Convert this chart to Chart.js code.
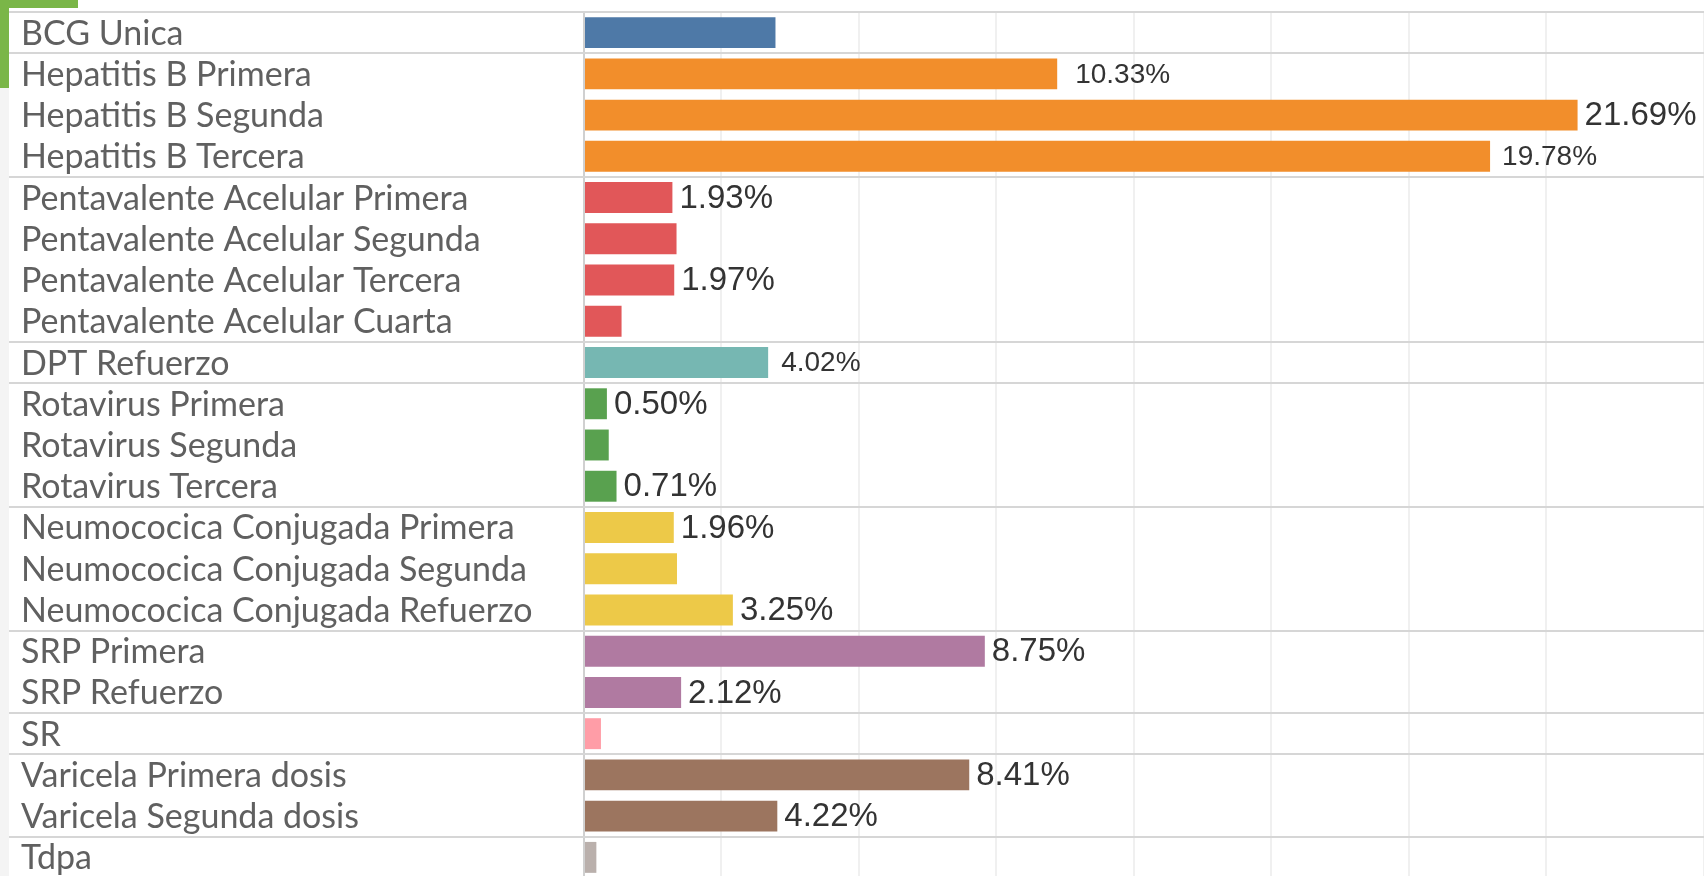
<!DOCTYPE html>
<html>
<head>
<meta charset="utf-8">
<script src="https://cdn.jsdelivr.net/npm/chart.js@4.4.1/dist/chart.umd.min.js"></script>
<style>
    html, body { margin: 0; padding: 0; background: #ffffff; overflow: hidden; }
    #CoberturaChart { display: block; }
</style>
</head>
<body>
<canvas id="CoberturaChart" width="1704" height="878"></canvas>
<script>
//Datos
var vacunas = [
    'BCG Unica',
    'Hepatitis B Primera',
    'Hepatitis B Segunda',
    'Hepatitis B Tercera',
    'Pentavalente Acelular Primera',
    'Pentavalente Acelular Segunda',
    'Pentavalente Acelular Tercera',
    'Pentavalente Acelular Cuarta',
    'DPT Refuerzo',
    'Rotavirus Primera',
    'Rotavirus Segunda',
    'Rotavirus Tercera',
    'Neumococica Conjugada Primera',
    'Neumococica Conjugada Segunda',
    'Neumococica Conjugada Refuerzo',
    'SRP Primera',
    'SRP Refuerzo',
    'SR',
    'Varicela Primera dosis',
    'Varicela Segunda dosis',
    'Tdpa'
];
var porcentajes = [4.18, 10.33, 21.69, 19.78, 1.93, 2.02, 1.97, 0.82, 4.02, 0.50, 0.54, 0.71,
    1.96, 2.03, 3.25, 8.75, 2.12, 0.37, 8.41, 4.22, 0.27];
var conEtiqueta = [false, true, true, true, true, false, true, false, true, true, false, true,
    true, false, true, true, true, false, true, true, false];
var grupos = ['BCG', 'Hepatitis B', 'Pentavalente', 'DPT', 'Rotavirus', 'Neumococica', 'SRP', 'SR', 'Varicela', 'Tdpa'];
var grupoDeVacuna = [0, 1, 1, 1, 2, 2, 2, 2, 3, 4, 4, 4, 5, 5, 5, 6, 6, 7, 8, 8, 9];

//Estilos
var coloresGrupo = ['#4e79a7', '#f28e2b', '#e15759', '#76b7b2', '#59a14f', '#edc948', '#b07aa1', '#ff9da7', '#9c755f', '#bab0ac'];
var etiquetasChicas = [1, 3, 8];

document.addEventListener('DOMContentLoaded', function () {
    var colores = grupoDeVacuna.map(function (g) { return coloresGrupo[g]; });

    //Separadores, nombres y etiquetas
    var decoracion = {
        id: 'decoracion',
        beforeDraw: function (chart) {
            var c = chart.ctx;
            c.save();
            c.fillStyle = '#f4f4f4';
            c.fillRect(0, 0, 9, chart.height);
            c.restore();
        },
        afterDraw: function (chart) {
            var c = chart.ctx;
            var y = chart.scales.y;
            var x = chart.scales.x;
            var paso = y.getPixelForValue(1) - y.getPixelForValue(0);
            c.save();

            // lineas entre grupos
            c.strokeStyle = '#d6d6d6';
            c.lineWidth = 2;
            for (var i = 0; i < vacunas.length; i++) {
                if (i === 0 || grupoDeVacuna[i] !== grupoDeVacuna[i - 1]) {
                    var ly = Math.round(y.getPixelForValue(i) - paso / 2);
                    c.beginPath();
                    c.moveTo(9, ly);
                    c.lineTo(chart.width, ly);
                    c.stroke();
                }
            }

            // nombres de vacunas
            c.fillStyle = '#606060';
            c.font = '34px Lato';
            c.textBaseline = 'alphabetic';
            c.textAlign = 'left';
            vacunas.forEach(function (v, i) {
                c.fillText(v, 21, y.getPixelForValue(i) + 12);
            });

            // etiquetas de porcentaje
            c.fillStyle = '#333333';
            c.textBaseline = 'middle';
            porcentajes.forEach(function (p, i) {
                if (!conEtiqueta[i]) return;
                var chica = etiquetasChicas.indexOf(i) >= 0;
                c.font = (chica ? '28px' : '33px') + ' "Liberation Sans", Arial';
                var sep = 7;
                if (chica) sep = p > 15 ? 12 : (p > 8 ? 18 : 13);
                c.fillText(p.toFixed(2) + '%', x.getPixelForValue(p) + sep, y.getPixelForValue(i) + 1);
            });

            // marca verde
            c.fillStyle = '#7ab648';
            c.fillRect(0, 0, 78, 8);
            c.fillRect(0, 0, 9, 88);
            c.restore();
        }
    };

    var ctx = document.getElementById('CoberturaChart').getContext('2d');

    var coberturaChart = new Chart(ctx, {
        type: 'bar',
        data: {
            labels: vacunas,
            datasets: [{
                label: 'Cobertura',
                data: porcentajes,
                backgroundColor: colores,
                borderWidth: 0,
                barPercentage: 0.75,
                categoryPercentage: 1.0
            }]
        },
        options: {
            indexAxis: 'y',
            responsive: false,
            animation: false,
            layout: {
                padding: { left: 584, top: 12, right: 0, bottom: 0 }
            },
            scales: {
                x: {
                    min: 0,
                    max: 24.45,
                    position: 'top',
                    ticks: { display: false, stepSize: 3 },
                    grid: {
                        drawTicks: false,
                        lineWidth: 2,
                        color: function (c) { return c.tick && c.tick.value === 0 ? '#d0d0d0' : '#f0f0f0'; }
                    },
                    border: { display: false }
                },
                y: {
                    display: false
                }
            },
            plugins: {
                legend: { display: false },
                tooltip: { enabled: false }
            }
        },
        plugins: [decoracion]
    });
});
</script>
</body>
</html>
